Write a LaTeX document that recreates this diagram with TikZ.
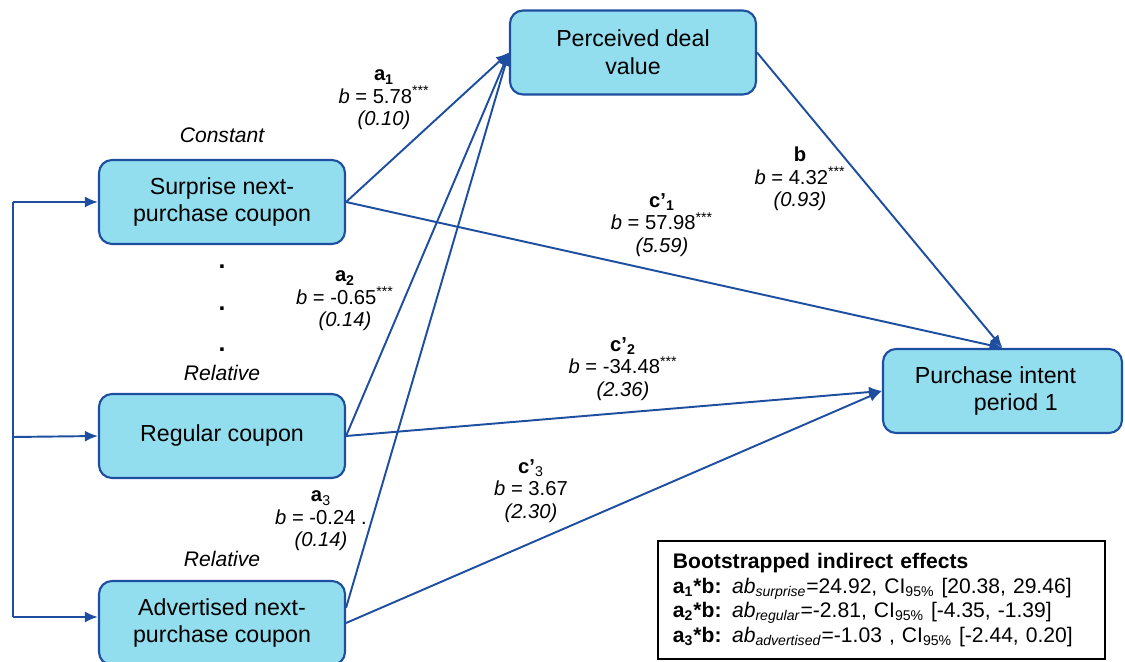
\documentclass[tikz,border=0pt]{standalone}
\usepackage{fontspec}
\setmainfont{Liberation Sans}
\usepackage{tikz}
\usetikzlibrary{arrows.meta}

\definecolor{boxfill}{RGB}{146,222,238}
\definecolor{boxline}{RGB}{30,78,160}

\begin{document}
\begin{tikzpicture}[
    x=0.2mm, y=-0.2mm,
    box/.style={draw=boxline, fill=boxfill, line width=1.2pt, rounded corners=2.6mm,
        minimum width=49.2mm, minimum height=16.8mm, inner sep=0mm, align=center,
        font=\fontsize{13.2}{15.9}\selectfont},
    coef/.style={align=center, inner sep=0mm, font=\fontsize{11.5}{12.8}\selectfont},
    cond/.style={inner sep=0mm, font=\fontsize{12}{14}\selectfont\itshape},
    link/.style={draw=boxline, line width=1.1pt, -{Latex[length=2.6mm,width=2.2mm]}}
]
\clip (0,0) rectangle (1125,662);

% Nodes
\node[box] (perc) at (633,52.5) {Perceived deal\\value};
\node[box] (surp) at (222,202) {Surprise next-\\purchase coupon};
\node[box] (reg) at (222,436) {Regular coupon};
\node[box] (adv) at (222,623) {Advertised next-\\purchase coupon};
\node[box, minimum width=47.8mm, align=left] (pi) at (1002.5,391)
    {Purchase intent\hspace*{2.8mm}\\\hspace*{11.8mm}period 1};

\coordinate (lb1) at (13,202);
\coordinate (lb2) at (13,437);
\coordinate (lb3) at (13,617);

% Edges
\draw[boxline, line width=1.1pt] (lb1) -- (lb3);
\draw[link] (lb1) -- (surp.west);
\draw[link] (lb2) -- (reg.west);
\draw[link] (lb3) -- (lb3 -| adv.west);
\draw[link] (surp.east) -- (perc.west);
\draw[link] (reg.east) -- (perc.west);
\draw[link] (adv.7) -- (perc.west);
\draw[link] (surp.east) -- (pi.north);
\draw[link] (perc.east) -- (pi.north);
\draw[link] (reg.east) -- (pi.west);
\draw[link] (adv.east) -- (pi.west);

% Labels
\node[cond] (cst) at (222,135) {Constant};
\node[cond] (rel1) at (222,373) {Relative};
\node[cond] (rel2) at (222,559) {Relative};
\node[coef, anchor=base, font=\fontsize{14}{14}\selectfont\bfseries] (dot1) at (222,268) {.};
\node[coef, anchor=base, font=\fontsize{14}{14}\selectfont\bfseries] (dot2) at (222,311) {.};
\node[coef, anchor=base, font=\fontsize{14}{14}\selectfont\bfseries] (dot3) at (222,352) {.};

\node[coef] (la1) at (384,100)
    {\textbf{a\textsubscript{1}}\\\textit{b} = 5.78\textsuperscript{***}\\\textit{(0.10)}};
\node[coef] (la2) at (345,301)
    {\textbf{a\textsubscript{2}}\\\textit{b} = -0.65\textsuperscript{***}\\\textit{(0.14)}};
\node[coef] (la3) at (321,521)
    {\textbf{a}\textsubscript{3}\\\textit{b} = -0.24 .\\\textit{(0.14)}};
\node[coef] (lb) at (800,179)
    {\textbf{b}\\\textit{b} = 4.32\textsuperscript{***}\\\textit{(0.93)}};
\node[coef] (lc1) at (662,225)
    {\textbf{c’\textsubscript{1}}\\\textit{b} = 57.98\textsuperscript{***}\\\textit{(5.59)}};
\node[coef] (lc2) at (623,369)
    {\textbf{c’\textsubscript{2}}\\\textit{b} = -34.48\textsuperscript{***}\\\textit{(2.36)}};
\node[coef] (lc3) at (531,491)
    {\textbf{c’}\textsubscript{3}\\\textit{b} = 3.67\\\textit{(2.30)}};

\node[draw=black, line width=0.8pt, minimum width=89.4mm, minimum height=23.6mm,
    text width=83.4mm, inner xsep=3mm, inner ysep=0mm, align=left,
    font=\fontsize{12}{13.9}\selectfont] (boot) at (881.5,600)
    {\textbf{Bootstrapped indirect effects}\\
     \textbf{a\textsubscript{1}*b:} \textit{ab}\textsubscript{\textit{surprise}}=24.92, CI\textsubscript{95\%} [20.38, 29.46]\\
     \textbf{a\textsubscript{2}*b:} \textit{ab}\textsubscript{\textit{regular}}=-2.81, CI\textsubscript{95\%} [-4.35, -1.39]\\
     \textbf{a\textsubscript{3}*b:} \textit{ab}\textsubscript{\textit{advertised}}=-1.03 , CI\textsubscript{95\%} [-2.44, 0.20]};

\end{tikzpicture}
\end{document}
